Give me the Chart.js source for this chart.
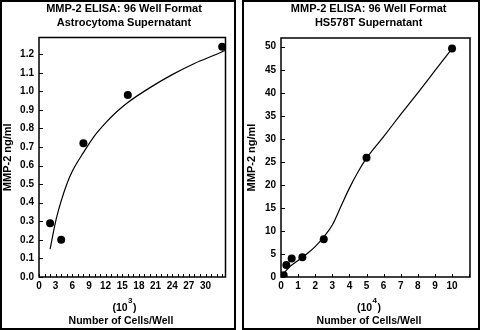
<!DOCTYPE html>
<html>
<head>
<meta charset="utf-8">
<script src="https://cdn.jsdelivr.net/npm/chart.js@4.4.0/dist/chart.umd.min.js"></script>
<style>
  html, body { margin: 0; padding: 0; background: #fff; }
  body  { width: 480px; height: 330px; position: relative; overflow: hidden; }
  .panel { position: absolute; top: 0; height: 330px; border: 2px solid #000; box-sizing: border-box; }
  .plot  { position: absolute; top: 2px; height: 326px; }
</style>
</head>
<body>
<div class="panel" style="left:0;width:236px"></div>
<div class="panel" style="left:242px;width:238px"></div>
<div class="plot" style="left:2px;width:232px"><canvas id="astroChart"></canvas></div>
<div class="plot" style="left:244px;width:234px"><canvas id="hsChart"></canvas></div>
<script>
// ── Data: Astrocytoma supernatant (x in 10^3 cells/well) ──
const astroCells = [2, 4, 8, 16, 33];
const astroMmp   = [0.29, 0.20, 0.72, 0.98, 1.24];
const astroFitX  = [2, 3, 4, 5, 6, 8, 10, 12, 14, 16, 20, 24, 28, 32, 33.5];
const astroFitY  = [0.15, 0.30, 0.41, 0.50, 0.57, 0.67, 0.76, 0.83, 0.89, 0.94, 1.02, 1.09, 1.15, 1.20, 1.22];

// ── Data: HS578T supernatant (x in 10^4 cells/well) ──
const hsCells = [0.156, 0.3125, 0.625, 1.25, 2.5, 5, 10];
const hsMmp   = [0.4, 2.6, 4.0, 4.3, 8.2, 25.9, 49.6];
const hsFitX  = [0.1, 0.5, 1, 1.5, 2, 2.5, 3, 3.5, 4, 4.5, 5, 6, 7, 8, 9, 10];
const hsFitY  = [0.5, 2.2, 3.6, 5.0, 6.6, 8.7, 11.3, 15.3, 19.3, 22.8, 25.8, 30.5, 35.3, 40.0, 44.8, 49.6];

const FONT = "'Liberation Sans', Arial, Helvetica, sans-serif";

const toPoints = (xs, ys) => xs.map((x, i) => ({ x, y: ys[i] }));

// ── Frame, inward ticks, title and axis caption ──
const panelPlugin = {
  id: 'panel',
  afterDraw(chart, args, o) {
    const { ctx, chartArea: a, scales: { x, y } } = chart;
    ctx.save();
    ctx.strokeStyle = '#000';
    ctx.lineWidth = 1;
    ctx.beginPath();
    y.ticks.forEach(t => {
      const py = Math.round(y.getPixelForValue(t.value)) + 0.5;
      ctx.moveTo(a.left, py); ctx.lineTo(a.left + o.yTick, py);
    });
    x.ticks.forEach(t => {
      const px = Math.round(x.getPixelForValue(t.value)) + 0.5;
      ctx.moveTo(px, a.bottom); ctx.lineTo(px, a.bottom - o.xTick);
    });
    ctx.stroke();
    ctx.lineWidth = 1.5;
    ctx.strokeRect(a.left, a.top, a.right - a.left, a.bottom - a.top);

    ctx.fillStyle = '#000';
    ctx.textBaseline = 'middle';
    ctx.textAlign = 'center';
    ctx.font = `bold 11px ${FONT}`;
    o.title.forEach((line, i) => ctx.fillText(line, a.left + o.titleDx, 7.3 + i * 14));

    ctx.font = `bold 10.5px ${FONT}`;
    ctx.fillText('Number of Cells/Well', a.left + o.captionDx, 319);

    // (10^n) with raised exponent
    ctx.textAlign = 'left';
    const w1 = ctx.measureText('(10').width;
    const w3 = ctx.measureText(')').width;
    ctx.font = `bold 8px ${FONT}`;
    const ws = ctx.measureText(o.power).width + 1;
    const sx = a.left + o.powerDx - (w1 + ws + w3) / 2;
    ctx.fillText(o.power, sx + w1 + 0.5, 298.5);
    ctx.font = `bold 10.5px ${FONT}`;
    ctx.fillText('(10', sx, 306);
    ctx.fillText(')', sx + w1 + ws, 306);
    ctx.restore();
  }
};

function makeChart(id, cfg) {
  return new Chart(document.getElementById(id), {
    type: 'scatter',
    data: {
      datasets: [
        {
          data: toPoints(cfg.cells, cfg.mmp),
          pointRadius: 4,
          pointBackgroundColor: '#000',
          pointBorderWidth: 0,
          showLine: false,
        },
        {
          data: toPoints(cfg.fitX, cfg.fitY),
          pointRadius: 0,
          showLine: true,
          borderColor: '#000',
          borderWidth: 1.2,
          cubicInterpolationMode: 'monotone',
        },
      ],
    },
    options: {
      responsive: true,
      maintainAspectRatio: false,
      animation: false,
      events: [],
      layout: { padding: { top: cfg.top, right: cfg.right, left: 0, bottom: 0 } },
      plugins: {
        legend:  { display: false },
        tooltip: { enabled: false },
        panel:   cfg.panel,
      },
      scales: {
        x: {
          type: 'linear',
          min: 0,
          max: cfg.xMax,
          grid:   { display: false, drawTicks: false },
          border: { display: false },
          afterBuildTicks: s => { s.ticks = s.ticks.filter(t => Number.isInteger(t.value)); },
          afterFit: s => { s.height = 51; },
          ticks: {
            stepSize: 1,
            includeBounds: false,
            autoSkip: false,
            maxRotation: 0,
            padding: 3,
            color: '#000',
            font: { family: FONT, size: 10, weight: 'bold' },
            callback: cfg.xLabel,
          },
        },
        y: {
          type: 'linear',
          min: 0,
          max: cfg.yMax,
          grid:   { display: false, drawTicks: false },
          border: { display: false },
          afterBuildTicks: s => { s.ticks = s.ticks.filter(cfg.yKeep); },
          afterFit: s => { s.width = 37; },
          title: {
            display: true,
            text: 'MMP-2 ng/ml',
            color: '#000',
            font: { family: FONT, size: 11, weight: 'bold', lineHeight: 1 },
            padding: { top: cfg.yTitlePad, bottom: 0 },
          },
          ticks: {
            stepSize: cfg.yStep,
            includeBounds: false,
            autoSkip: false,
            padding: 5,
            color: '#000',
            font: { family: FONT, size: 10, weight: 'bold' },
            callback: cfg.yLabel,
          },
        },
      },
    },
    plugins: [panelPlugin],
  });
}

makeChart('astroChart', {
  cells: astroCells, mmp: astroMmp, fitX: astroFitX, fitY: astroFitY,
  top: 35.5, right: 8.5,
  xMax: 33.6, yMax: 1.29, yStep: 0.1,
  xLabel: v => (v % 3 === 0 && v <= 30 ? v : ''),
  yKeep: t => Math.abs(t.value * 10 - Math.round(t.value * 10)) < 1e-6,
  yLabel: v => v.toFixed(1),
  yTitlePad: 0,
  panel: {
    title: ['MMP-2 ELISA: 96 Well Format', 'Astrocytoma Supernatant'],
    titleDx: 85, captionDx: 82, powerDx: 85.5, power: '3',
    xTick: 3, yTick: 4,
  },
});

makeChart('hsChart', {
  cells: hsCells, mmp: hsMmp, fitX: hsFitX, fitY: hsFitY,
  top: 36, right: 8,
  xMax: 11.05, yMax: 51.9, yStep: 5,
  xLabel: v => (v <= 10 ? v : ''),
  yKeep: t => t.value % 5 === 0,
  yLabel: v => v,
  yTitlePad: 2,
  panel: {
    title: ['MMP-2 ELISA: 96 Well Format', 'HS578T Supernatant'],
    titleDx: 87.7, captionDx: 88, powerDx: 88, power: '4',
    xTick: 3, yTick: 4,
  },
});
</script>
</body>
</html>
